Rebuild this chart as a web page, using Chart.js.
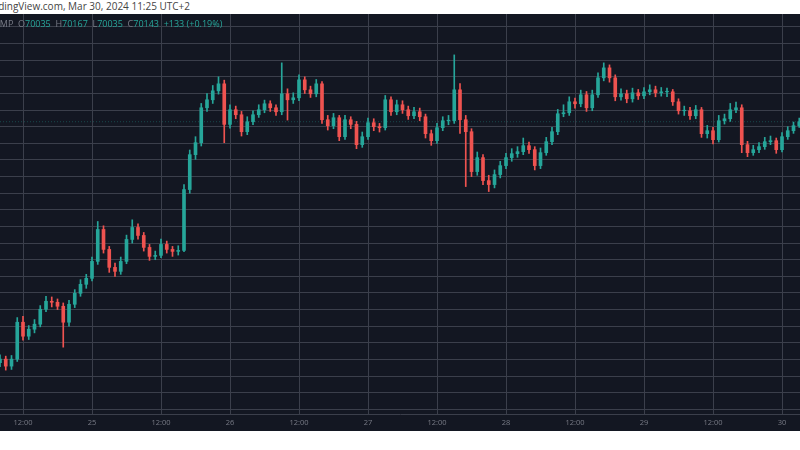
<!DOCTYPE html>
<html>
<head>
<meta charset="utf-8">
<script src="https://cdn.jsdelivr.net/npm/chart.js@4.4.1/dist/chart.umd.min.js"></script>
<style>
  html, body { margin: 0; padding: 0; background: #fff; width: 800px; height: 450px; overflow: hidden; }
  #head { position: absolute; left: -17px; top: 0; height: 14px; font: 10px "Open Sans", sans-serif; color: #444; line-height: 13px; white-space: nowrap; }
  #wrap { position: absolute; left: 0; top: 14px; width: 800px; height: 417px; background: #131722; }
  #legend { position: absolute; left: -6px; top: 17px; font: 9px "Open Sans", sans-serif; color: #787b86; white-space: nowrap; z-index: 2; }
  #legend b { font-weight: normal; color: #26a69a; }
</style>
</head>
<body>
<div id="head">TradingView.com, Mar 30, 2024 11:25 UTC+2</div>
<div id="wrap"><canvas id="c" width="800" height="417"></canvas></div>
<div id="legend">BMP &nbsp;O<b>70035</b> &nbsp;H<b>70167</b> &nbsp;L<b>70035</b> &nbsp;C<b>70143</b> &nbsp;<b>+133 (+0.19%)</b></div>
<script>
// hourly candles, first one at Mar 24 08:00
const FIRST_OPEN = 66700;
const CLOSES = [
  66755, 66650, 66755, 67310, 67100, 67205, 67280, 67505, 67625, 67610,
  67550, 67310, 67580, 67745, 67880, 67970, 68225, 68705, 68405, 68135,
  68075, 68225, 68555, 68735, 68615, 68435, 68300, 68315, 68480, 68405,
  68375, 68390, 69305, 69830, 70010, 70535, 70655, 70790, 70895, 70285,
  70505, 70430, 70175, 70325, 70430, 70505, 70595, 70535, 70475, 70745,
  70655, 70685, 70955, 70805, 70745, 70895, 70355, 70265, 70385, 70100,
  70355, 70285, 69980, 70100, 70310, 70250, 70235, 70655, 70475, 70580,
  70505, 70415, 70475, 70400, 70145, 70040, 70235, 70340, 70340, 70805,
  70355, 70175, 69575, 69785, 69440, 69380, 69530, 69665, 69785, 69845,
  69875, 69965, 69905, 69665, 69860, 70025, 70175, 70445, 70460, 70625,
  70595, 70730, 70535, 70730, 70985, 71135, 70985, 70700, 70745, 70670,
  70760, 70715, 70775, 70805, 70760, 70775, 70775, 70625, 70490, 70490,
  70415, 70505, 70145, 70190, 70055, 70340, 70370, 70505, 70535, 69980,
  69860, 69905, 69950, 70025, 70040, 69905, 70100, 70190, 70265, 70325
];
const HIGHS = [
  66820, 66800, 66810, 67380, 67400, 67260, 67350, 67560, 67700, 67690,
  67660, 67600, 67640, 67800, 67950, 68030, 68290, 68825, 68760, 68450,
  68200, 68290, 68620, 68850, 68790, 68660, 68480, 68380, 68560, 68530,
  68450, 68460, 69380, 69900, 70100, 70600, 70750, 70870, 71000, 70950,
  70580, 70560, 70480, 70400, 70490, 70580, 70650, 70640, 70580, 71210,
  70820, 70760, 71030, 71000, 70860, 70960, 70930, 70420, 70450, 70420,
  70420, 70400, 70330, 70170, 70380, 70370, 70300, 70720, 70700, 70650,
  70640, 70560, 70540, 70530, 70440, 70200, 70300, 70400, 70420, 71330,
  70900, 70420, 70220, 69870, 69830, 69520, 69600, 69730, 69850, 69920,
  69950, 70080, 70020, 69950, 69930, 70090, 70240, 70510, 70580, 70700,
  70680, 70800, 70780, 70800, 71060, 71210, 71180, 71030, 70820, 70800,
  70830, 70810, 70840, 70880, 70860, 70840, 70830, 70810, 70670, 70560,
  70540, 70570, 70540, 70270, 70240, 70420, 70440, 70600, 70620, 70580,
  70030, 69970, 70010, 70090, 70110, 70080, 70160, 70250, 70320, 70380
];
const LOWS = [
  66640, 66590, 66600, 66720, 67040, 67050, 67150, 67240, 67470, 67540,
  67500, 66935, 67250, 67530, 67700, 67820, 67930, 68180, 68350, 68060,
  68000, 68030, 68190, 68500, 68560, 68380, 68240, 68250, 68280, 68350,
  68300, 68320, 68370, 69250, 69760, 69960, 70480, 70600, 70740, 70010,
  70230, 70370, 70110, 70130, 70280, 70390, 70460, 70480, 70420, 70430,
  70350, 70600, 70640, 70750, 70690, 70700, 70300, 70200, 70220, 70040,
  70060, 70220, 69920, 69940, 70060, 70190, 70170, 70200, 70420, 70430,
  70450, 70360, 70370, 70340, 70080, 69970, 70000, 70190, 70280, 70300,
  70150, 69350, 69500, 69520, 69380, 69275, 69330, 69480, 69620, 69730,
  69790, 69830, 69850, 69600, 69620, 69820, 69980, 70130, 70400, 70420,
  70530, 70550, 70480, 70490, 70690, 70940, 70920, 70640, 70650, 70610,
  70620, 70660, 70670, 70730, 70700, 70710, 70700, 70570, 70440, 70420,
  70360, 70370, 70090, 70080, 69990, 70020, 70290, 70330, 70460, 69860,
  69800, 69820, 69860, 69910, 69980, 69850, 69870, 70060, 70150, 70240
];
// candle index of each time label, and the label
const TICK_POS = [4, 16, 28, 40, 52, 64, 76, 88, 100, 112, 124, 136];
const TICK_LABELS = ["12:00", "25", "12:00", "26", "12:00", "27", "12:00", "28", "12:00", "29", "12:00", "30"];

const UP = "#26a69a";
const DOWN = "#ef5350";
const GRID = "#3b3f4b";

const opens = CLOSES.map((c, i) => (i === 0 ? FIRST_OPEN : CLOSES[i - 1]));
const colors = CLOSES.map((c, i) => (c >= opens[i] ? UP : DOWN));
const wicks = CLOSES.map((c, i) => ({ x: i, y: [LOWS[i], HIGHS[i]] }));
const bodies = CLOSES.map((c, i) => {
  const lo = Math.min(opens[i], c);
  const hi = Math.max(opens[i], c);
  return { x: i, y: [lo, hi === lo ? hi + 8 : hi] };
});
const lastClose = CLOSES[CLOSES.length - 1];

new Chart(document.getElementById("c"), {
  type: "bar",
  data: {
    datasets: [
      {
        type: "line",
        data: [{ x: 0, y: lastClose }, { x: 140, y: lastClose }],
        borderColor: "rgba(38,166,154,0.35)",
        borderWidth: 1,
        borderDash: [1, 2],
        pointRadius: 0,
        order: 3
      },
      {
        data: wicks,
        backgroundColor: colors,
        barThickness: 1,
        grouped: false,
        order: 2
      },
      {
        data: bodies,
        backgroundColor: colors,
        barThickness: 3,
        grouped: false,
        order: 1
      }
    ]
  },
  options: {
    responsive: false,
    animation: false,
    layout: { padding: 0 },
    plugins: { legend: { display: false }, tooltip: { enabled: false } },
    scales: {
      x: {
        type: "linear",
        min: 0,
        max: 139.13,
        offset: false,
        afterBuildTicks(axis) {
          axis.ticks = TICK_POS.map((v) => ({ value: v }));
        },
        ticks: {
          autoSkip: false,
          maxRotation: 0,
          color: "#787b86",
          font: { size: 7.5, family: "Open Sans" },
          padding: 4,
          callback(value) {
            return TICK_LABELS[TICK_POS.indexOf(value)];
          }
        },
        grid: { color: GRID, drawTicks: false, offset: false },
        border: { color: GRID }
      },
      y: {
        min: 65930,
        max: 71945,
        afterBuildTicks(axis) {
          const t = [];
          for (let v = 71750; v >= 66000; v -= 250) t.push({ value: v });
          axis.ticks = t;
        },
        afterFit(axis) {
          axis.width = 0;
        },
        ticks: { display: false },
        grid: { color: GRID, drawTicks: false },
        border: { display: false }
      }
    }
  }
});
</script>
</body>
</html>
